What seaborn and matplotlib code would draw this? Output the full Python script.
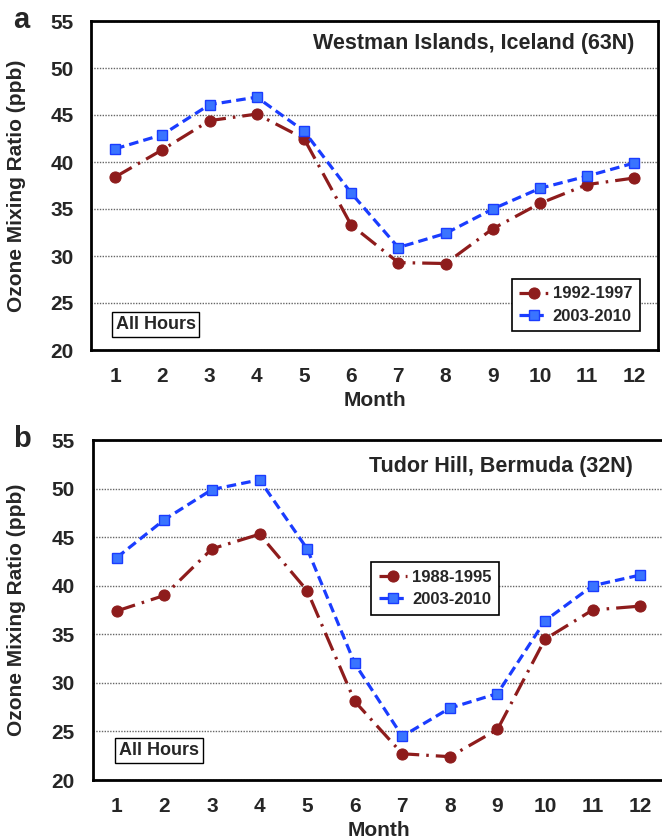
import matplotlib
matplotlib.use("Agg")
import matplotlib.pyplot as plt
import seaborn as sns
import pandas as pd

# Monthly mean ozone mixing ratios (ppb), all hours
months = list(range(1, 13))

westman_label_early = "1992-1997"
westman_early = [38.4, 41.3, 44.4, 45.1, 42.5, 33.3, 29.3, 29.2, 32.9, 35.6, 37.6, 38.3]
westman_label_late = "2003-2010"
westman_late = [41.4, 42.9, 46.1, 46.9, 43.3, 36.7, 30.9, 32.4, 35.0, 37.2, 38.5, 39.9]

bermuda_label_early = "1988-1995"
bermuda_early = [37.4, 39.0, 43.8, 45.3, 39.5, 28.1, 22.7, 22.4, 25.2, 34.5, 37.5, 37.9]
bermuda_label_late = "2003-2010"
bermuda_late = [42.9, 46.8, 49.9, 50.9, 43.8, 32.0, 24.5, 27.4, 28.9, 36.4, 40.0, 41.1]

site_titles = ["Westman Islands, Iceland (63N)", "Tudor Hill, Bermuda (32N)"]
panel_letters = ["a", "b"]
y_ticks = [20, 25, 30, 35, 40, 45, 50, 55]

sns.set_theme(style="white")
plt.rcParams["font.family"] = ["Liberation Sans", "DejaVu Sans"]
plt.rcParams["font.weight"] = "bold"
FONT = ["Liberation Sans", "DejaVu Sans"]

RED = "#8e1c1c"
BLUE = "#1a3cff"
BLUE_FACE = "#3a74ff"

fig = plt.figure(figsize=(6.62, 8.40), dpi=100)
W, H = 662, 840


def add_axes_px(left, top, right, bottom):
    return fig.add_axes([left / W, 1 - bottom / H, (right - left) / W, (bottom - top) / H])


ax_a = add_axes_px(91.5, 21, 658, 350)
ax_b = add_axes_px(93, 440, 664, 780)

panels = [
    dict(ax=ax_a, lab1=westman_label_early, vals1=westman_early,
         lab2=westman_label_late, vals2=westman_late, title=site_titles[0],
         leg_pos=(0.742, 0.216), title_pos=(0.959, 0.933), box_pos=(0.113, 0.0775),
         ylab_x=-0.116),
    dict(ax=ax_b, lab1=bermuda_label_early, vals1=bermuda_early,
         lab2=bermuda_label_late, vals2=bermuda_late, title=site_titles[1],
         leg_pos=(0.487, 0.641), title_pos=(0.946, 0.921), box_pos=(0.1156, 0.087),
         ylab_x=-0.117),
]

for p in panels:
    ax = p["ax"]
    df = pd.DataFrame({
        "Month": months * 2,
        "Ozone": p["vals1"] + p["vals2"],
        "Period": [p["lab1"]] * 12 + [p["lab2"]] * 12,
    })
    sns.lineplot(data=df[df["Period"] == p["lab1"]], x="Month", y="Ozone", ax=ax,
                 color=RED, linewidth=2.3, linestyle=(0, (6, 2.2, 0.8, 2.2)),
                 marker="o", markersize=8, markerfacecolor=RED,
                 markeredgecolor=RED, label=p["lab1"], zorder=3)
    sns.lineplot(data=df[df["Period"] == p["lab2"]], x="Month", y="Ozone", ax=ax,
                 color=BLUE, linewidth=2.3, linestyle=(0, (3, 1.6)),
                 marker="s", markersize=7.5, markerfacecolor=BLUE_FACE,
                 markeredgecolor=BLUE, markeredgewidth=1.0, label=p["lab2"], zorder=4)

    ax.set_xlim(0.5, 12.5)
    ax.set_ylim(20, 55)
    ax.set_xticks(months)
    ax.set_yticks(y_ticks)
    ax.tick_params(axis="both", length=0, labelsize=15)
    ax.tick_params(axis="y", pad=13)
    ax.tick_params(axis="x", pad=12)
    for t in ax.get_xticklabels() + ax.get_yticklabels():
        t.set_fontweight("bold")
    ax.yaxis.grid(True, color="#666666", linestyle=(0, (1, 1)), linewidth=1.0)
    ax.xaxis.grid(False)
    for sp in ax.spines.values():
        sp.set_visible(True)
        sp.set_color("black")
        sp.set_linewidth(2.0)

    ax.set_xlabel("Month", fontsize=15, fontweight="bold", labelpad=4)
    ax.set_ylabel("Ozone Mixing Ratio (ppb)", fontsize=15, fontweight="bold")
    ax.yaxis.set_label_coords(p["ylab_x"], 0.5)

    leg = ax.legend(loc="upper left", bbox_to_anchor=p["leg_pos"], frameon=True,
                    fancybox=False, edgecolor="black", framealpha=1,
                    handlelength=1.7, handletextpad=0.3, borderpad=0.45,
                    labelspacing=0.45, borderaxespad=0,
                    prop={"family": FONT, "weight": "bold", "size": 12})
    leg.get_frame().set_linewidth(1.2)

    ax.text(p["title_pos"][0], p["title_pos"][1], p["title"], transform=ax.transAxes,
            ha="right", va="center", fontsize=15.5, fontweight="bold", family=FONT)
    ax.text(p["box_pos"][0], p["box_pos"][1], "All Hours", transform=ax.transAxes,
            ha="center", va="center", fontsize=13, fontweight="bold", family=FONT,
            bbox=dict(boxstyle="square,pad=0.2", facecolor="white",
                      edgecolor="black", linewidth=1.0))

fig.text(21 / W, 1 - 28 / H, panel_letters[0], ha="center", va="baseline",
         fontsize=21, fontweight="bold")
fig.text(22 / W, 1 - 447 / H, panel_letters[1], ha="center", va="baseline",
         fontsize=21, fontweight="bold")

fig.savefig("out.png", dpi=100, facecolor="white")
